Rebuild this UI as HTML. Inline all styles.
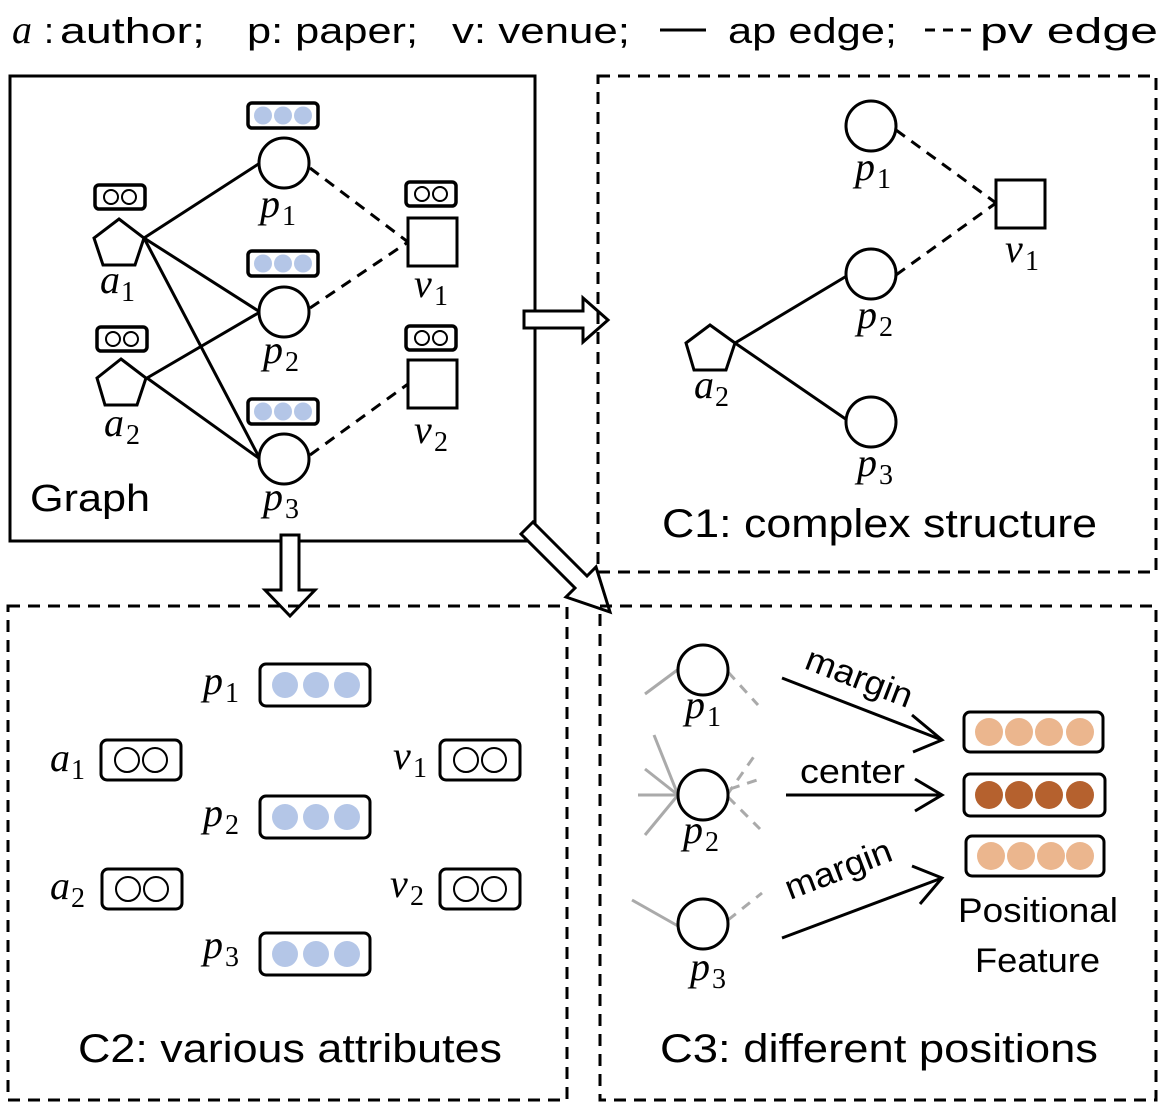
<!DOCTYPE html>
<html><head><style>
html,body{margin:0;padding:0;background:#fff;}
svg{display:block;}
text{font-family:"Liberation Sans",sans-serif;fill:#000;}
.m{font-family:"Liberation Serif",serif;font-style:italic;font-size:40px;}
.s{font-family:"Liberation Serif",serif;font-style:normal;font-size:28px;}
</style></head><body>
<svg width="1166" height="1108" viewBox="0 0 1166 1108" xmlns="http://www.w3.org/2000/svg">
<defs>
<g id="blue3"><rect x="0" y="0" width="70" height="25" rx="4" fill="#fff" stroke="#000" stroke-width="3.5"/><circle cx="15" cy="12.5" r="9" fill="#b4c6e7"/><circle cx="35" cy="12.5" r="9" fill="#b4c6e7"/><circle cx="55" cy="12.5" r="9" fill="#b4c6e7"/></g>
<g id="open2"><rect x="0" y="0" width="50" height="24" rx="4" fill="#fff" stroke="#000" stroke-width="3.5"/><circle cx="16" cy="12" r="7" fill="none" stroke="#000" stroke-width="2"/><circle cx="34" cy="12" r="7" fill="none" stroke="#000" stroke-width="2"/></g>
<g id="bblue"><rect x="0" y="0" width="110" height="42" rx="6" fill="#fff" stroke="#000" stroke-width="3"/><circle cx="25" cy="21" r="13" fill="#b4c6e7"/><circle cx="56" cy="21" r="13" fill="#b4c6e7"/><circle cx="87" cy="21" r="13" fill="#b4c6e7"/></g>
<g id="bopen"><rect x="0" y="0" width="80" height="40" rx="6" fill="#fff" stroke="#000" stroke-width="3"/><circle cx="26" cy="20" r="12" fill="none" stroke="#000" stroke-width="2"/><circle cx="54" cy="20" r="12" fill="none" stroke="#000" stroke-width="2"/></g>
</defs>

<!-- header -->
<text x="12" y="43" class="m">a</text><text x="60" y="43" font-size="36" textLength="145" lengthAdjust="spacingAndGlyphs">author;</text>
<text x="44" y="43" font-size="36">:</text>
<text x="247" y="43" font-size="36" textLength="171" lengthAdjust="spacingAndGlyphs">p: paper;</text>
<text x="452" y="43" font-size="36" textLength="178" lengthAdjust="spacingAndGlyphs">v: venue;</text>
<line x1="660" y1="30" x2="706" y2="30" stroke="#000" stroke-width="3"/>
<text x="728" y="43" font-size="36" textLength="169" lengthAdjust="spacingAndGlyphs">ap edge;</text>
<line x1="925" y1="30" x2="976" y2="30" stroke="#000" stroke-width="3" stroke-dasharray="10,8"/>
<text x="980" y="43" font-size="36" textLength="178" lengthAdjust="spacingAndGlyphs">pv edge</text>

<!-- Graph box -->
<rect x="10" y="76" width="525" height="465" fill="none" stroke="#000" stroke-width="3"/>
<g stroke="#000" stroke-width="3" fill="none">
<line x1="144" y1="238" x2="260" y2="163"/>
<line x1="144" y1="238" x2="260" y2="312"/>
<line x1="144" y1="238" x2="260" y2="459"/>
<line x1="147" y1="378" x2="260" y2="312"/>
<line x1="147" y1="378" x2="260" y2="459"/>
<g stroke-dasharray="11,8">
<line x1="310" y1="168" x2="408" y2="242"/>
<line x1="310" y1="308" x2="408" y2="242"/>
<line x1="310" y1="455" x2="408" y2="384"/>
</g>
<circle cx="284" cy="163" r="25" fill="#fff"/>
<circle cx="284" cy="312" r="25" fill="#fff"/>
<circle cx="284" cy="459" r="25" fill="#fff"/>
<polygon points="119,219 144,238 135,265 103,265 94,238" fill="#fff"/>
<polygon points="121,359 146,378 137,405 105,405 97,378" fill="#fff"/>
<rect x="408" y="218" width="49" height="48" fill="#fff"/>
<rect x="408" y="360" width="49" height="48" fill="#fff"/>
</g>
<use href="#blue3" x="248" y="103"/>
<use href="#blue3" x="248" y="251"/>
<use href="#blue3" x="248" y="399"/>
<use href="#open2" x="95" y="185"/>
<use href="#open2" x="97" y="327"/>
<use href="#open2" x="406" y="182"/>
<use href="#open2" x="406" y="326"/>
<text x="100" y="293" class="m">a</text><text x="121" y="301" class="s">1</text>
<text x="104" y="436" class="m">a</text><text x="126" y="444" class="s">2</text>
<text x="260" y="217" class="m">p</text><text x="282" y="225" class="s">1</text>
<text x="263" y="363" class="m">p</text><text x="285" y="371" class="s">2</text>
<text x="263" y="510" class="m">p</text><text x="285" y="518" class="s">3</text>
<text x="414" y="297" class="m">v</text><text x="434" y="305" class="s">1</text>
<text x="414" y="443" class="m">v</text><text x="434" y="451" class="s">2</text>
<text x="30" y="511" font-size="38" textLength="120" lengthAdjust="spacingAndGlyphs">Graph</text>

<!-- hollow arrows -->
<g fill="#fff" stroke="#000" stroke-width="3">
<polygon points="524,311 583,311 583,298 608,320 583,342 583,328 524,328"/>
<polygon points="281,535 299,535 299,590 315,590 290,616 265,590 281,590"/>
<polygon points="533,522 587,576 596,567 610,612 566,597 575,588 521,534"/>
</g>

<!-- C1 -->
<rect x="598" y="76" width="558" height="496" fill="none" stroke="#000" stroke-width="3" stroke-dasharray="12,8"/>
<g stroke="#000" stroke-width="3" fill="none">
<line x1="735" y1="343" x2="850" y2="274"/>
<line x1="735" y1="343" x2="850" y2="422"/>
<g stroke-dasharray="11,8">
<line x1="896" y1="130" x2="996" y2="203"/>
<line x1="896" y1="275" x2="996" y2="203"/>
</g>
<circle cx="871" cy="126" r="25" fill="#fff"/>
<circle cx="871" cy="274" r="25" fill="#fff"/>
<circle cx="871" cy="422" r="25" fill="#fff"/>
<polygon points="710,325 735,343 726,370 694,370 686,343" fill="#fff"/>
<rect x="996" y="180" width="49" height="48" fill="#fff"/>
</g>
<text x="855" y="180" class="m">p</text><text x="877" y="188" class="s">1</text>
<text x="857" y="328" class="m">p</text><text x="879" y="336" class="s">2</text>
<text x="857" y="476" class="m">p</text><text x="879" y="484" class="s">3</text>
<text x="1005" y="262" class="m">v</text><text x="1025" y="270" class="s">1</text>
<text x="694" y="398" class="m">a</text><text x="715" y="406" class="s">2</text>
<text x="662" y="537" font-size="40" textLength="435" lengthAdjust="spacingAndGlyphs">C1: complex structure</text>

<!-- C2 -->
<rect x="8" y="606" width="559" height="494" fill="none" stroke="#000" stroke-width="3" stroke-dasharray="12,8"/>
<use href="#bblue" x="260" y="664"/>
<use href="#bblue" x="260" y="796"/>
<use href="#bblue" x="260" y="933"/>
<use href="#bopen" x="101" y="740"/>
<use href="#bopen" x="102" y="869"/>
<use href="#bopen" x="440" y="740"/>
<use href="#bopen" x="440" y="869"/>
<text x="203" y="694" class="m">p</text><text x="225" y="702" class="s">1</text>
<text x="203" y="826" class="m">p</text><text x="225" y="834" class="s">2</text>
<text x="203" y="958" class="m">p</text><text x="225" y="966" class="s">3</text>
<text x="50" y="771" class="m">a</text><text x="71" y="779" class="s">1</text>
<text x="50" y="899" class="m">a</text><text x="71" y="907" class="s">2</text>
<text x="393" y="769" class="m">v</text><text x="413" y="777" class="s">1</text>
<text x="390" y="897" class="m">v</text><text x="410" y="905" class="s">2</text>
<text x="78" y="1062" font-size="40" textLength="424" lengthAdjust="spacingAndGlyphs">C2: various attributes</text>

<!-- C3 -->
<rect x="600" y="606" width="556" height="494" fill="none" stroke="#000" stroke-width="3" stroke-dasharray="12,8"/>
<g stroke="#aaa" stroke-width="3" fill="none">
<line x1="645" y1="694" x2="680" y2="668"/>
<line x1="654" y1="735" x2="678" y2="795"/>
<line x1="645" y1="769" x2="678" y2="795"/>
<line x1="638" y1="795" x2="678" y2="795"/>
<line x1="645" y1="835" x2="678" y2="795"/>
<line x1="632" y1="900" x2="678" y2="926"/>
<g stroke-dasharray="10,8">
<line x1="728" y1="672" x2="758" y2="705"/>
<line x1="727" y1="795" x2="755" y2="755"/>
<line x1="730" y1="789" x2="760" y2="779"/>
<line x1="728" y1="797" x2="760" y2="829"/>
<line x1="728" y1="920" x2="762" y2="893"/>
</g>
</g>
<g stroke="#000" stroke-width="3" fill="#fff">
<circle cx="703" cy="670" r="25"/>
<circle cx="703" cy="795" r="25"/>
<circle cx="703" cy="924" r="25"/>
</g>
<g stroke="#000" stroke-width="3" fill="none">
<line x1="782" y1="678" x2="942" y2="740"/><polyline points="912,715 942,740 913,752"/>
<line x1="786" y1="795" x2="942" y2="795"/><polyline points="915,779 942,795 915,811"/>
<line x1="782" y1="938" x2="942" y2="878"/><polyline points="912,866 942,878 920,904"/>
</g>
<text x="685" y="718" class="m">p</text><text x="707" y="726" class="s">1</text>
<text x="683" y="843" class="m">p</text><text x="705" y="851" class="s">2</text>
<text x="690" y="980" class="m">p</text><text x="712" y="988" class="s">3</text>
<text x="0" y="0" font-size="34" textLength="112" lengthAdjust="spacingAndGlyphs" transform="translate(803,668) rotate(21)">margin</text>
<text x="800" y="783" font-size="34" textLength="105" lengthAdjust="spacingAndGlyphs">center</text>
<text x="0" y="0" font-size="34" textLength="112" lengthAdjust="spacingAndGlyphs" transform="translate(790,900) rotate(-21)">margin</text>
<g stroke="#000" stroke-width="3">
<rect x="964" y="712" width="139" height="40" rx="6" fill="#fff"/>
<rect x="964" y="774" width="141" height="42" rx="6" fill="#fff"/>
<rect x="966" y="836" width="138" height="40" rx="6" fill="#fff"/>
</g>
<g fill="#ebb68e"><circle cx="989" cy="732" r="14"/><circle cx="1019" cy="732" r="14"/><circle cx="1049" cy="732" r="14"/><circle cx="1080" cy="732" r="14"/></g>
<g fill="#b5612e"><circle cx="989" cy="795" r="14"/><circle cx="1019" cy="795" r="14"/><circle cx="1049" cy="795" r="14"/><circle cx="1080" cy="795" r="14"/></g>
<g fill="#ebb68e"><circle cx="991" cy="856" r="14"/><circle cx="1021" cy="856" r="14"/><circle cx="1051" cy="856" r="14"/><circle cx="1080" cy="856" r="14"/></g>
<text x="958" y="922" font-size="34" textLength="160" lengthAdjust="spacingAndGlyphs">Positional</text>
<text x="975" y="972" font-size="34" textLength="125" lengthAdjust="spacingAndGlyphs">Feature</text>
<text x="660" y="1062" font-size="40" textLength="438" lengthAdjust="spacingAndGlyphs">C3: different positions</text>
</svg>
</body></html>
